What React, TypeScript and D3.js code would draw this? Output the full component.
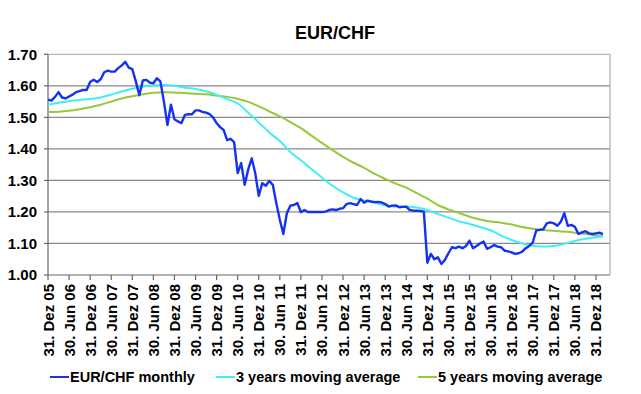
import React from 'react';
import * as d3 from 'd3';

// Monthly EUR/CHF, index 0 = 31. Dez 05
const monthly: number[] = [
  1.556, 1.553, 1.565, 1.580, 1.563, 1.560, 1.566, 1.572, 1.580, 1.583,
  1.587, 1.587, 1.612, 1.619, 1.612, 1.621, 1.643, 1.648, 1.645, 1.645,
  1.656, 1.665, 1.676, 1.658, 1.653, 1.614, 1.570, 1.617, 1.619, 1.610,
  1.608, 1.624, 1.614, 1.550, 1.476, 1.540, 1.494, 1.487, 1.482, 1.508,
  1.510, 1.510, 1.522, 1.522, 1.517, 1.515, 1.510, 1.500, 1.482, 1.469,
  1.460, 1.428, 1.432, 1.421, 1.323, 1.355, 1.286, 1.335, 1.370, 1.323,
  1.251, 1.291, 1.283, 1.298, 1.286, 1.228, 1.175, 1.130, 1.196, 1.220,
  1.222, 1.228, 1.199, 1.206, 1.200, 1.200, 1.200, 1.200, 1.200, 1.201,
  1.206, 1.208, 1.206, 1.210, 1.212, 1.225, 1.228, 1.225, 1.222, 1.241,
  1.229, 1.236, 1.233, 1.231, 1.232, 1.230, 1.225, 1.217, 1.220, 1.221,
  1.215, 1.216, 1.217, 1.206, 1.204, 1.204, 1.203, 1.201, 1.039, 1.067,
  1.050, 1.056, 1.035, 1.048, 1.069, 1.088, 1.085, 1.090, 1.085, 1.092,
  1.109, 1.085, 1.092, 1.100, 1.106, 1.083, 1.088, 1.095, 1.090, 1.088,
  1.077, 1.075, 1.072, 1.067, 1.069, 1.074, 1.085, 1.092, 1.103, 1.141,
  1.143, 1.145, 1.164, 1.167, 1.164, 1.156, 1.169, 1.196, 1.156, 1.159,
  1.153, 1.130, 1.135, 1.139, 1.132, 1.130, 1.132, 1.134, 1.130,
];

// Moving averages read at these month indices
const avgMonths: number[] = [
  0, 3, 6, 9, 12, 15, 18, 21, 24, 27, 30, 33, 36, 39, 42, 45, 48, 51, 54, 57,
  60, 63, 66, 69, 72, 75, 78, 81, 84, 87, 90, 93, 96, 99, 102, 105, 108, 111,
  114, 117, 120, 123, 126, 129, 132, 135, 138, 141, 144, 147, 150, 153, 156, 158,
];
const ma3: number[] = [
  1.540, 1.546, 1.551, 1.555, 1.558, 1.563, 1.572, 1.582, 1.591, 1.597,
  1.602, 1.603, 1.600, 1.594, 1.590, 1.583, 1.572, 1.558, 1.544, 1.515,
  1.484, 1.452, 1.425, 1.390, 1.364, 1.336, 1.309, 1.283, 1.262, 1.245,
  1.236, 1.229, 1.221, 1.217, 1.217, 1.214, 1.206, 1.193, 1.182, 1.170,
  1.162, 1.152, 1.142, 1.125, 1.111, 1.100, 1.093, 1.090, 1.092, 1.099,
  1.108, 1.115, 1.120, 1.122,
];
const ma5: number[] = [
  1.517, 1.518, 1.521, 1.526, 1.532, 1.540, 1.550, 1.560, 1.567, 1.573,
  1.578, 1.580, 1.579, 1.577, 1.575, 1.573, 1.569, 1.565, 1.559, 1.549,
  1.535, 1.519, 1.503, 1.485, 1.466, 1.442, 1.419, 1.396, 1.375, 1.356,
  1.340, 1.321, 1.305, 1.290, 1.277, 1.260, 1.242, 1.222, 1.208, 1.197,
  1.185, 1.176, 1.170, 1.166, 1.160, 1.152, 1.147, 1.143, 1.140, 1.138,
  1.134, 1.130, 1.125, 1.122,
];

const xTickLabels: string[] = [
  '31. Dez 05', '30. Jun 06', '31. Dez 06', '30. Jun 07', '31. Dez 07',
  '30. Jun 08', '31. Dez 08', '30. Jun 09', '31. Dez 09', '30. Jun 10',
  '31. Dez 10', '30. Jun 11', '31. Dez 11', '30. Jun 12', '31. Dez 12',
  '30. Jun 13', '31. Dez 13', '30. Jun 14', '31. Dez 14', '30. Jun 15',
  '31. Dez 15', '30. Jun 16', '31. Dez 16', '30. Jun 17', '31. Dez 17',
  '30. Jun 18', '31. Dez 18',
];
const yTicks: number[] = [1.0, 1.1, 1.2, 1.3, 1.4, 1.5, 1.6, 1.7];
const seriesNames: string[] = ['EUR/CHF monthly', '3 years moving average', '5 years moving average'];
const seriesColors: string[] = ['#1432f0', '#3ef0f6', '#98c83a'];

const W = 641;
const H = 394;
const L = 48, R = 610, T = 54.3, B = 275;
const FONT = '"Liberation Sans", Arial, Helvetica, sans-serif';

export default function App() {
  const x = d3.scaleLinear().domain([0, 160]).range([L, R]);
  const y = d3.scaleLinear().domain([1.0, 1.7]).range([B, T]);

  const lineM = d3.line<number>().x((_, i) => x(i)).y((d) => y(d));
  const lineA = d3
    .line<[number, number]>()
    .x((d) => x(d[0]))
    .y((d) => y(d[1]))
    .curve(d3.curveMonotoneX);

  const ma3Pts: [number, number][] = avgMonths.map((m, i) => [m, ma3[i]]);
  const ma5Pts: [number, number][] = avgMonths.map((m, i) => [m, ma5[i]]);

  const legendX = [50, 216, 418];
  const legendY = 377;

  return (
    <svg
      width={W}
      height={H}
      style={{ position: 'absolute', left: 0, top: 0, background: '#fff' }}
      fontFamily={FONT}
    >
      <rect x={0} y={0} width={W} height={H} fill="#fff" />
      <text x={335} y={39} textAnchor="middle" fontSize={18} fontWeight="bold" fill="#000">
        EUR/CHF
      </text>

      {/* gridlines */}
      {yTicks.slice(1).map((t) => (
        <line
          key={'g' + t}
          x1={L}
          x2={R}
          y1={y(t)}
          y2={y(t)}
          stroke={t === 1.7 ? '#b4b4b4' : '#8a8a8a'}
          strokeWidth={1.3}
        />
      ))}
      <line x1={R} x2={R} y1={T} y2={B} stroke="#b4b4b4" strokeWidth={1.3} />

      {/* y axis */}
      <line x1={L} x2={L} y1={T} y2={B} stroke="#666" strokeWidth={1.2} />
      {yTicks.map((t) => (
        <g key={'y' + t}>
          <line x1={L - 4} x2={L} y1={y(t)} y2={y(t)} stroke="#666" strokeWidth={1.2} />
          <text
            x={37}
            y={y(t)}
            dy="0.36em"
            textAnchor="end"
            fontSize={15}
            fontWeight="bold"
            fill="#000"
          >
            {t.toFixed(2)}
          </text>
        </g>
      ))}

      {/* x axis */}
      <line x1={L} x2={R} y1={B} y2={B} stroke="#666" strokeWidth={1.2} />
      {xTickLabels.map((lab, i) => {
        const xx = x(i * 6);
        return (
          <g key={'x' + i}>
            <line x1={xx} x2={xx} y1={B} y2={B + 5} stroke="#666" strokeWidth={1.2} />
            <text
              transform={`translate(${xx + 5.5},${B + 9}) rotate(-90)`}
              textAnchor="end"
              fontSize={15}
              fontWeight="bold"
              fill="#000"
            >
              {lab}
            </text>
          </g>
        );
      })}

      {/* series */}
      <path d={lineA(ma5Pts) || ''} fill="none" stroke={seriesColors[2]} strokeWidth={2} />
      <path d={lineA(ma3Pts) || ''} fill="none" stroke={seriesColors[1]} strokeWidth={2} />
      <path d={lineM(monthly) || ''} fill="none" stroke={seriesColors[0]} strokeWidth={2.4} strokeLinejoin="round" />

      {/* legend */}
      {seriesNames.map((name, i) => (
        <g key={'l' + i}>
          <line
            x1={legendX[i]}
            x2={legendX[i] + 19}
            y1={legendY}
            y2={legendY}
            stroke={seriesColors[i]}
            strokeWidth={2}
          />
          <text x={legendX[i] + 20} y={legendY + 5} fontSize={14.5} fontWeight="bold" fill="#000">
            {name}
          </text>
        </g>
      ))}
    </svg>
  );
}
